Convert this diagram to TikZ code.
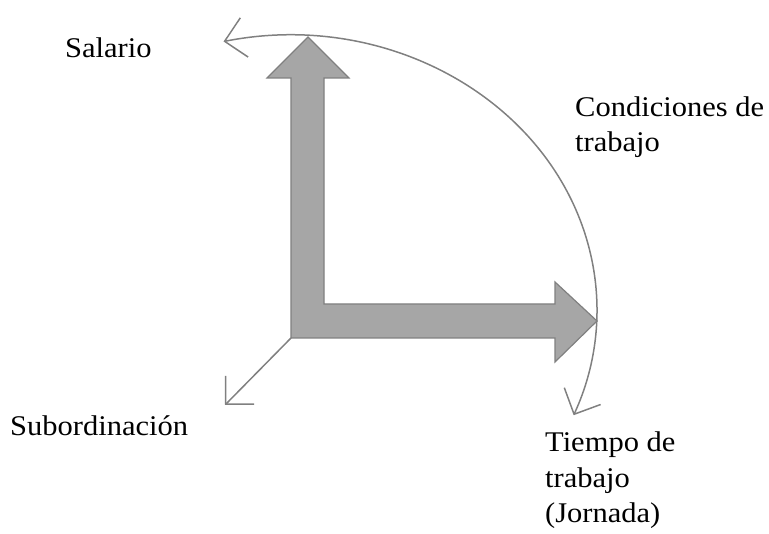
\documentclass[tikz,border=0pt]{standalone}
\usepackage{fontspec}
\setmainfont[FakeStretch=1.07]{Liberation Serif}
\usetikzlibrary{arrows.meta}
\definecolor{relleno}{RGB}{166,166,166}
\definecolor{borde}{RGB}{128,128,128}
\begin{document}
\begin{tikzpicture}[x=1pt,y=-1pt,
    flecha/.style={fill=relleno,draw=borde,line width=1.2pt,line join=miter},
    giro/.style={draw=borde,line width=1.5pt,-{Straight Barb[length=20pt,width=40pt]}},
    etiqueta/.style={anchor=base west,inner sep=0pt,align=left,
        font=\fontsize{28.5}{35.5}\selectfont}]
            \useasboundingbox (0,0) rectangle (769,534);
            \def\ele{(291,338) coordinate (o) -- (291,78) -- (267,78) -- (308,37) coordinate (arriba)
                -- (349,78) -- (324,78) -- (324,304) -- (555,304) -- (555,282)
                -- (597,321) coordinate (derecha) -- (555,362) -- (555,338) -- cycle}
            \draw[flecha] \ele;
            \coordinate (sub) at (225,405);
            \draw[giro] (o) -- (sub);
            \draw[giro,{Straight Barb[length=20pt,width=40pt]}-{Straight Barb[length=20pt,width=40pt]}]
                (290,310) ++(-102.5:307 and 275) arc[start angle=-102.5,end angle=22.5,x radius=307,y radius=275];
            % la base de un nodo de varias lineas queda en la ultima linea
            \node (s) [etiqueta] at (65,58) {Salario};
            \node (c) [etiqueta] at (575,152) {Condiciones de\\trabajo};
            \node (b) [etiqueta] at (10,436) {Subordinación};
            \node (t) [etiqueta] at (545,523) {Tiempo de\\trabajo\\(Jornada)};
        \end{tikzpicture}
\end{document}
